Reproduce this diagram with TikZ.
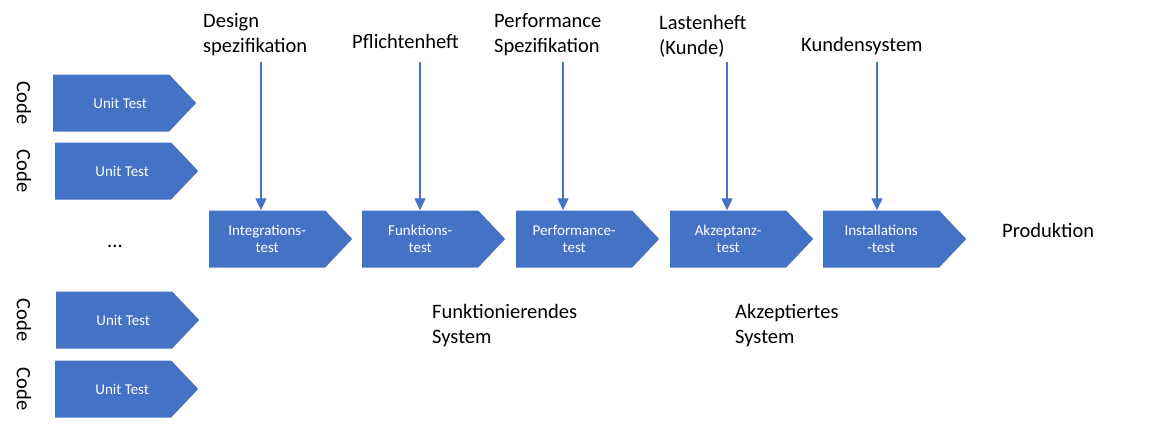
\documentclass[tikz,border=0pt]{standalone}
\usepackage{fontspec}
\setmainfont{Carlito}
\usetikzlibrary{shapes.symbols,arrows.meta}
\definecolor{boxblue}{HTML}{4472C4}
\tikzset{
  chev/.style={shape=signal, signal to=east, signal pointer angle=93, fill=boxblue, text=white,
    minimum width=143pt, minimum height=57pt, inner sep=0pt, align=center,
    font=\fontsize{15}{16.5}\selectfont},
  lbl/.style={align=left, inner sep=0pt, font=\fontsize{20.5}{25}\selectfont},
  feed/.style={boxblue, line width=1.1pt, -{Triangle[width=11pt,length=12pt]}}
}
\begin{document}
\begin{tikzpicture}[x=1pt,y=-1pt]
	\useasboundingbox (0,0) rectangle (1167,431);

	%unit tests
	\foreach \x/\y [count=\i] in {53/103, 55/171, 56/320, 55/389}{
	  \node[chev, anchor=west] (ut\i) at (\x,\y) {\hspace*{18pt}Unit Test};
	  \node[lbl, rotate=-90] (code\i) at (24,\y) {Code};
	}
	\node[lbl] (dots) at (115,246) {...};

	%test chain
	\node[chev, anchor=west] (integ) at (209,239) {Integrations-\\test};
	\node[chev, anchor=west] (funk) at (362,239) {Funktions-\\test};
	\node[chev, anchor=west] (perf) at (516,239) {Performance-\\test};
	\node[chev, anchor=west] (akz) at (670,239) {Akzeptanz-\\test};
	\node[chev, anchor=west] (inst) at (823,239) {Installations\\-test};
	\node[lbl, anchor=west] (prod) at (1002,230) {Produktion};

	%documents
	\node[lbl, anchor=west] (design) at (203,35) {Design\\spezifikation};
	\node[lbl, anchor=west] (pflicht) at (352,41) {Pflichtenheft};
	\node[lbl, anchor=west] (perfspec) at (494,35) {Performance\\Spezifikation};
	\node[lbl, anchor=west] (lasten) at (659,36) {Lastenheft\\(Kunde)};
	\node[lbl, anchor=west] (kunde) at (801,46) {Kundensystem};

	%arrows
	\foreach \x/\n [count=\i] in {261/integ, 420/funk, 563/perf, 727/akz, 877/inst}{
	  \coordinate (f\i) at (\x,62);
	  \draw[feed] (f\i) -- (f\i |- \n.north);
	}

	%results
	\node[lbl, anchor=west] (funksys) at (432,326) {Funktionierendes\\System};
	\node[lbl, anchor=west] (akzsys) at (735,326) {Akzeptiertes\\System};
\end{tikzpicture}
\end{document}
